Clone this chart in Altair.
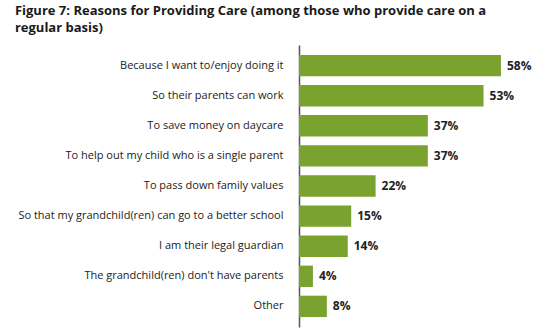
import altair as alt
import pandas as pd

reasons = [
    "Because I want to/enjoy doing it",
    "So their parents can work",
    "To save money on daycare",
    "To help out my child who is a single parent",
    "To pass down family values",
    "So that my grandchild(ren) can go to a better school",
    "I am their legal guardian",
    "The grandchild(ren) don't have parents",
    "Other",
]
values = [58, 53, 37, 37, 22, 15, 14, 4, 8]
value_labels = ["58%", "53%", "37%", "37%", "22%", "15%", "14%", "4%", "8%"]

df = pd.DataFrame({"reason": reasons, "value": values, "label": value_labels})

FONT = "Open Sans"

y = alt.Y(
    "reason:N",
    sort=reasons,
    title=None,
    scale=alt.Scale(paddingInner=0.29, paddingOuter=0.33),
    axis=alt.Axis(
        domain=True,
        domainColor="#555555",
        domainWidth=1.5,
        ticks=False,
        grid=False,
        labelPadding=16,
        labelLimit=400,
        labelFont=FONT,
        labelFontSize=11,
        labelColor="#222222",
    ),
)
x = alt.X("value:Q", title=None, axis=None, scale=alt.Scale(domain=[0, 69.5], nice=False))

bars = alt.Chart(df).mark_bar(color="#79a22e").encode(x=x, y=y)
texts = alt.Chart(df).mark_text(
    align="left", dx=6, font=FONT, fontSize=12, fontWeight="bold", color="#222222"
).encode(x=x, y=y, text="label:N")

chart = (
    alt.layer(bars, texts)
    .properties(
        width=242,
        height=282,
        autosize=alt.AutoSizeParams(type="none"),
        padding={"left": 299, "top": 45, "right": 0, "bottom": 5},
        title=alt.Title(
            ["Figure 7: Reasons for Providing Care (among those who provide care on a", "regular basis)"],
            anchor="start",
            frame="bounds",
            dx=-3,
            offset=10,
            font=FONT,
            fontSize=13,
            fontWeight="bold",
            color="#1a1a1a",
            lineHeight=17,
        ),
    )
    .configure_view(stroke=None)
)

chart.save("out.html", embed_options={"renderer": "svg", "actions": False})
